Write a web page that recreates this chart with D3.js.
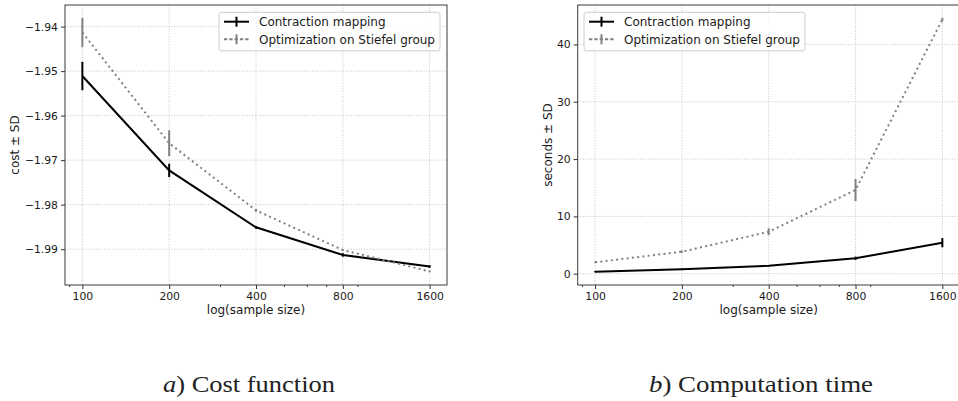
<!DOCTYPE html>
<html>
<head>
<meta charset="utf-8">
<script src="https://cdn.jsdelivr.net/npm/d3@7/dist/d3.min.js"></script>
<style>
  body { margin: 0; background: #fff; }
  svg { display: block; font-family: "DejaVu Sans", sans-serif; }
  .tick text { font-size: 10.8px; fill: #1a1a1a; }
  .tick line { stroke: #333; }
</style>
</head>
<body>
<div id="chart"></div>
<script>
// sample sizes (log2 spaced)
var sizes = [100, 200, 400, 800, 1600];
var minorTicks = [90, 300, 500, 600, 700, 900];

// a) cost function, mean and SD
var costContraction = [-1.9511, -1.9723, -1.9851, -1.9913, -1.9939];
var costContractionSd = [0.0032, 0.0015, 0.0003, 0.0004, 0.0003];
var costStiefel = [-1.9413, -1.9662, -1.9813, -1.9902, -1.9950];
var costStiefelSd = [0.0033, 0.0029, 0.0003, 0.0002, 0.0002];
var costTicks = [-1.94, -1.95, -1.96, -1.97, -1.98, -1.99];

// b) computation time in seconds, mean and SD
var timeContraction = [0.35, 0.77, 1.39, 2.69, 5.41];
var timeContractionSd = [0.1, 0.1, 0.1, 0.3, 0.8];
var timeStiefel = [1.99, 3.84, 7.32, 14.6, 44.36];
var timeStiefelSd = [0.1, 0.2, 0.6, 1.95, 0.3];
var timeTicks = [0, 10, 20, 30, 40];

var seriesNames = ["Contraction mapping", "Optimization on Stiefel group"];

var W = 958, H = 401;
var svg = d3.select("#chart").append("svg")
    .attr("width", W)
    .attr("height", H);

var styles = [
  { color: "#000", dash: null, legendDash: null },
  { color: "#808080", dash: "2,3.3", legendDash: "3.3,2" }
];

function drawPanel(opts) {
  var g = svg.append("g").attr("transform", "translate(" + opts.left + "," + opts.top + ")");
  var w = opts.width, h = opts.height;

  // x: log scale with 5% margins (in log space) like matplotlib
  var pad = Math.pow(2, 0.2);
  var x = d3.scaleLog().base(2)
      .domain([sizes[0] / pad, sizes[sizes.length - 1] * pad])
      .range([0, w]);

  var lo = d3.min(opts.series, function(s) { return d3.min(s.values, function(v, i) { return v - s.sd[i]; }); });
  var hi = d3.max(opts.series, function(s) { return d3.max(s.values, function(v, i) { return v + s.sd[i]; }); });
  var m = (hi - lo) * 0.05;
  var y = d3.scaleLinear().domain([lo - m, hi + m]).range([h, 0]);

  // grid
  g.append("g").selectAll("line").data(sizes).enter().append("line")
      .attr("x1", function(d) { return x(d); }).attr("x2", function(d) { return x(d); })
      .attr("y1", 0).attr("y2", h)
      .attr("stroke", "#b8b8b8").attr("stroke-width", 0.8).attr("stroke-dasharray", "1,1.6");
  g.append("g").selectAll("line").data(opts.yTicks).enter().append("line")
      .attr("y1", function(d) { return y(d); }).attr("y2", function(d) { return y(d); })
      .attr("x1", 0).attr("x2", w)
      .attr("stroke", "#b8b8b8").attr("stroke-width", 0.8).attr("stroke-dasharray", "1,1.6");

  // axes
  var xAxis = g.append("g").attr("transform", "translate(0," + h + ")")
      .call(d3.axisBottom(x).tickValues(sizes).tickFormat(d3.format("d")).tickSize(4).tickPadding(3));
  xAxis.select(".domain").remove();
  var xMinor = g.append("g").attr("transform", "translate(0," + h + ")")
      .call(d3.axisBottom(x).tickValues(minorTicks).tickFormat("").tickSize(2));
  xMinor.select(".domain").remove();

  var yAxis = g.append("g")
      .call(d3.axisLeft(y).tickValues(opts.yTicks).tickFormat(opts.yFormat).tickSize(4).tickPadding(3));
  yAxis.select(".domain").remove();
  svg.selectAll(".tick text").attr("font-family", "DejaVu Sans");

  // series
  opts.series.forEach(function(s, k) {
    var st = styles[k];
    var line = d3.line()
        .x(function(d, i) { return x(sizes[i]); })
        .y(function(d) { return y(d); });
    g.append("path")
        .datum(s.values)
        .attr("d", line)
        .attr("fill", "none")
        .attr("stroke", st.color)
        .attr("stroke-width", 2)
        .attr("stroke-dasharray", st.dash);
    g.append("g").selectAll("line").data(s.values).enter().append("line")
        .attr("x1", function(d, i) { return x(sizes[i]); })
        .attr("x2", function(d, i) { return x(sizes[i]); })
        .attr("y1", function(d, i) { return y(d - s.sd[i]); })
        .attr("y2", function(d, i) { return y(d + s.sd[i]); })
        .attr("stroke", st.color)
        .attr("stroke-width", 2);
  });

  // frame
  g.append("rect")
      .attr("x", 0).attr("y", 0).attr("width", w).attr("height", h)
      .attr("fill", "none").attr("stroke", "#3a3a3a").attr("stroke-width", 1);

  // labels
  g.append("text")
      .attr("x", w / 2).attr("y", h + 28.5)
      .attr("text-anchor", "middle")
      .attr("font-size", 12).attr("fill", "#1a1a1a")
      .text("log(sample size)");
  g.append("text")
      .attr("transform", "translate(" + opts.yLabelX + "," + (h / 2) + ") rotate(-90)")
      .attr("text-anchor", "middle")
      .attr("dy", "0.35em")
      .attr("font-size", 12).attr("fill", "#1a1a1a")
      .text(opts.yLabel);

  // legend
  var lg = g.append("g").attr("transform", "translate(" + opts.legendX + ",7.3)");
  lg.append("rect")
      .attr("width", 221).attr("height", 38.5).attr("rx", 2.5)
      .attr("fill", "#fff").attr("fill-opacity", 0.8)
      .attr("stroke", "#cccccc").attr("stroke-width", 1);
  seriesNames.forEach(function(name, k) {
    var st = styles[k];
    var ry = 9.4 + k * 17.6;
    lg.append("line")
        .attr("x1", 5).attr("x2", 30).attr("y1", ry).attr("y2", ry)
        .attr("stroke", st.color).attr("stroke-width", 2)
        .attr("stroke-dasharray", st.legendDash);
    lg.append("line")
        .attr("x1", 17.5).attr("x2", 17.5).attr("y1", ry - 5).attr("y2", ry + 5)
        .attr("stroke", st.color).attr("stroke-width", 2);
    lg.append("text")
        .attr("x", 40).attr("y", ry).attr("dy", "0.36em")
        .attr("font-size", 12).attr("fill", "#1a1a1a")
        .text(name);
  });
}

drawPanel({
  left: 65, top: 5, width: 382, height: 280,
  series: [
    { values: costContraction, sd: costContractionSd },
    { values: costStiefel, sd: costStiefelSd }
  ],
  yTicks: costTicks,
  yFormat: d3.format(".2f"),
  yLabel: "cost \u00b1 SD",
  yLabelX: -50,
  legendX: 154
});

drawPanel({
  left: 577.7, top: 5, width: 382, height: 280,
  series: [
    { values: timeContraction, sd: timeContractionSd },
    { values: timeStiefel, sd: timeStiefelSd }
  ],
  yTicks: timeTicks,
  yFormat: d3.format("d"),
  yLabel: "seconds \u00b1 SD",
  yLabelX: -29.5,
  legendX: 6.3
});

// captions
var captions = [
  { x: 163, lead: "a", rest: ") Cost function", len: 172 },
  { x: 649, lead: "b", rest: ") Computation time", len: 224 }
];
captions.forEach(function(c) {
  var t = svg.append("text")
      .attr("x", c.x).attr("y", 392)
      .attr("font-family", "Liberation Serif, serif")
      .attr("font-size", 24)
      .attr("fill", "#222")
      .attr("textLength", c.len)
      .attr("lengthAdjust", "spacingAndGlyphs");
  t.append("tspan").attr("font-style", "italic").text(c.lead);
  t.append("tspan").text(c.rest);
});
</script>
</body>
</html>
